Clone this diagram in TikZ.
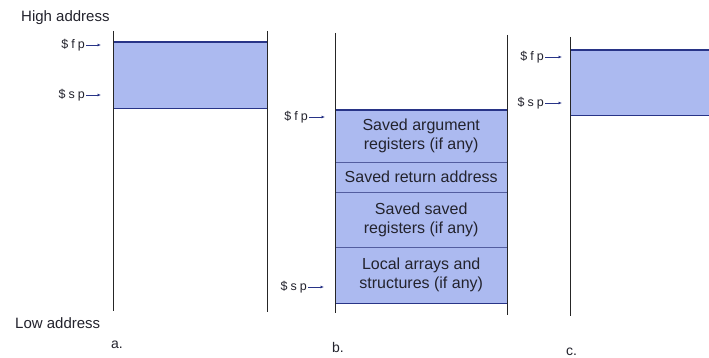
\documentclass[tikz,border=0pt]{standalone}
\usepackage{fontspec}
\setmainfont{Liberation Sans}
\usetikzlibrary{arrows.meta}
\definecolor{stackfill}{RGB}{172,186,240}
\definecolor{stackedge}{RGB}{40,52,135}
\definecolor{inktext}{RGB}{35,35,45}
\begin{document}
\begin{tikzpicture}[x=1pt,y=-1pt,
  wall/.style={line width=0.9pt, black!85},
  frame/.style={fill=stackfill, draw=none, inner sep=0pt, anchor=north west},
  edge/.style={draw=stackedge, line width=1.6pt},
  divider/.style={draw=stackedge!80, line width=0.9pt},
  reg/.style={font=\fontsize{12.5}{12}\selectfont, text=inktext, anchor=east, inner sep=1pt},
  ptr/.style={-{Latex[length=3.5pt,width=3pt]}, line width=0.7pt, stackedge},
  boxtxt/.style={font=\fontsize{16}{19}\selectfont, align=center, text=inktext, inner sep=0pt},
  addrlabel/.style={font=\fontsize{15}{16}\selectfont, text=inktext, inner sep=0pt, anchor=base west},
  tag/.style={font=\fontsize{14}{15}\selectfont, text=inktext, inner sep=0pt, anchor=base west}]
\useasboundingbox (0,0) rectangle (709,358);
\clip (0,0) rectangle (709,358);
\fill[white] (0,0) rectangle (709,358);

% ---------- labels ----------
\node[addrlabel] (high) at (21,22) {High address};
\node[addrlabel] (low) at (15,328) {Low address};
\node[tag] (la) at (111,348) {a.};
\node[tag] (lb) at (332,352) {b.};
\node[tag] (lc) at (566,355) {c.};

% ---------- panel a ----------
\node[frame, minimum width=154pt, minimum height=66pt] (fa) at (113,42) {};
\draw[edge] (fa.north west) -- (fa.north east);
\draw[edge] (fa.south west) -- (fa.south east);
\coordinate (aLt) at (113,31); \coordinate (aLb) at (113,311);
\coordinate (aRt) at (267,31); \coordinate (aRb) at (267,312);
\draw[wall] (aLt) -- (aLb);
\draw[wall] (aRt) -- (aRb);
\node[reg] (fpa) at (86,45) {\$\hspace{3pt}f\hspace{3pt}p};
\node[reg] (spa) at (86,95) {\$\hspace{3pt}s\hspace{3pt}p};
\draw[ptr] (fpa.east) -- ++(15,0);
\draw[ptr] (spa.east) -- ++(15,0);

% ---------- panel b ----------
\node[frame, minimum width=172pt, minimum height=52pt] (b1) at (335,110) {};
\node[frame, minimum width=172pt, minimum height=30pt] (b2) at (335,162) {};
\node[frame, minimum width=172pt, minimum height=55pt] (b3) at (335,192) {};
\node[frame, minimum width=172pt, minimum height=56pt] (b4) at (335,247) {};
\node[boxtxt] (t1) at (b1.center) {Saved argument\\registers (if any)};
\node[boxtxt] (t2) at (b2.center) {Saved return address};
\node[boxtxt] (t3) at (b3.center) {Saved saved\\registers (if any)};
\node[boxtxt] (t4) at (b4.center) {Local arrays and\\structures (if any)};
\draw[divider] (b2.north west) -- (b2.north east);
\draw[divider] (b3.north west) -- (b3.north east);
\draw[divider] (b4.north west) -- (b4.north east);
\draw[edge] (b1.north west) -- (b1.north east);
\draw[edge] (b4.south west) -- (b4.south east);
\coordinate (bLt) at (335,33); \coordinate (bLb) at (335,313);
\coordinate (bRt) at (507,35); \coordinate (bRb) at (507,315);
\draw[wall] (bLt) -- (bLb);
\draw[wall] (bRt) -- (bRb);
\node[reg] (fpb) at (309,117) {\$\hspace{3pt}f\hspace{3pt}p};
\node[reg] (spb) at (308,287) {\$\hspace{3pt}s\hspace{3pt}p};
\draw[ptr] (fpb.east) -- ++(16,0);
\draw[ptr] (spb.east) -- ++(16,0);

% ---------- panel c ----------
\node[frame, minimum width=150pt, minimum height=65pt] (fc) at (570,50) {};
\draw[edge] (fc.north west) -- (fc.north east);
\draw[edge] (fc.south west) -- (fc.south east);
\coordinate (cLt) at (570,37); \coordinate (cLb) at (570,316);
\draw[wall] (cLt) -- (cLb);
\node[reg] (fpc) at (545,57) {\$\hspace{3pt}f\hspace{3pt}p};
\node[reg] (spc) at (545,103) {\$\hspace{3pt}s\hspace{3pt}p};
\draw[ptr] (fpc.east) -- ++(17,0);
\draw[ptr] (spc.east) -- ++(17,0);
\end{tikzpicture}
\end{document}
